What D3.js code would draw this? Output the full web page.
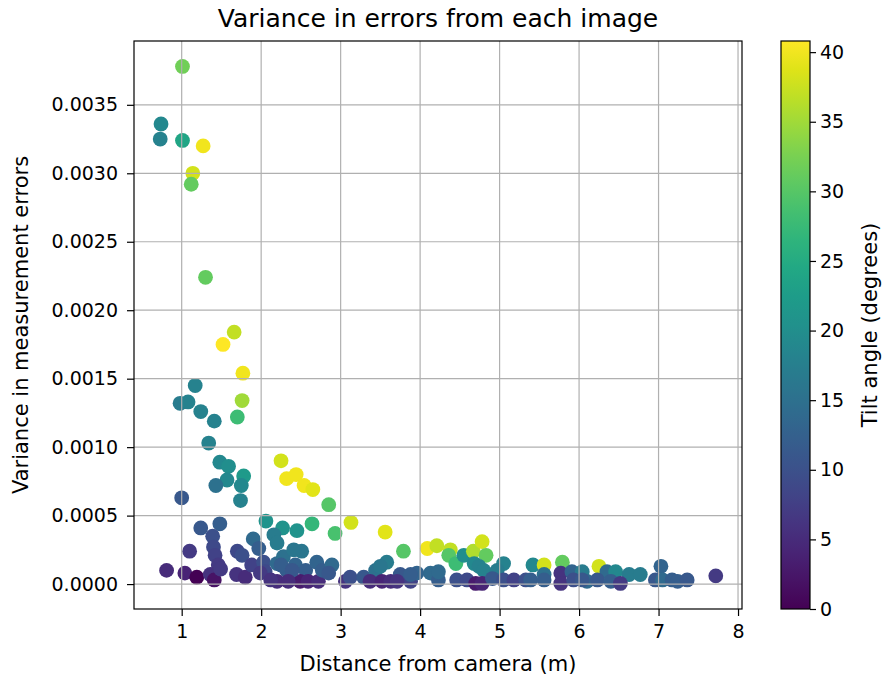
<!DOCTYPE html>
<html>
<head>
<meta charset="utf-8">
<script src="https://cdn.jsdelivr.net/npm/d3@7"></script>
<style>
  body { margin: 0; background: #fff; }
  text { font-family: "DejaVu Sans", sans-serif; fill: #000; }
</style>
</head>
<body>
<svg id="chart" width="883" height="678"></svg>
<script>
// Distance from camera (m) for each image
const distance = [
  1.01, 0.74, 0.73, 1.01, 1.27, 1.14, 1.12, 1.30, 1.66, 1.52, 1.77, 1.17, 1.76, 0.98, 1.08, 1.24,
  1.41, 1.70, 1.34, 1.48, 1.59, 1.57, 1.43, 1.78, 1.75, 1.74, 1.00, 2.25, 2.32, 2.44, 2.54, 2.65,
  2.85, 3.13, 3.56, 2.93, 2.64, 2.45, 2.27, 2.06, 2.16, 2.20, 1.90, 1.97, 1.48, 1.24, 1.39, 1.40,
  1.42, 1.46, 1.10, 0.81, 1.04, 1.19, 1.36, 1.41, 1.70, 1.76, 1.69, 1.80, 1.88, 2.03, 2.05, 1.99,
  2.20, 2.28, 2.32, 2.20, 2.43, 2.51, 2.41, 2.56, 2.49, 2.59, 2.72, 2.70, 2.77, 2.89, 2.85, 3.06,
  3.12, 3.29, 3.44, 3.37, 3.79, 4.09, 4.21, 4.38, 4.36, 4.45, 4.55, 4.67, 4.78, 4.83, 4.68, 4.74,
  4.80, 5.05, 4.97, 5.42, 5.56, 5.56, 3.58, 3.50, 3.52, 3.63, 3.75, 3.88, 3.96, 4.13, 4.23, 4.46,
  4.59, 4.70, 4.78, 4.91, 5.05, 5.18, 5.33, 5.79, 5.77, 5.91, 6.04, 6.25, 6.35, 6.46, 6.63, 6.77,
  7.03, 7.72, 5.39, 5.56, 5.77, 5.93, 6.10, 6.23, 6.40, 6.52, 6.96, 7.05, 7.17, 7.24, 7.36, 1.49,
  2.25, 2.39, 3.88, 4.23, 2.34, 3.71, 6.04, 2.12
];

// Variance in measurement errors for each image
const variance = [
  0.00378, 0.00336, 0.00325, 0.00324, 0.00320, 0.00300, 0.00292, 0.00224, 0.00184, 0.00175, 0.00154, 0.00145, 0.00134, 0.00132, 0.00133, 0.00126,
  0.00119, 0.00122, 0.00103, 0.00089, 0.00086, 0.00076, 0.00072, 0.00079, 0.00072, 0.00061, 0.00063, 0.00090, 0.00077, 0.00080, 0.00072, 0.00069,
  0.00058, 0.00045, 0.00038, 0.00037, 0.00044, 0.00039, 0.00041, 0.00046, 0.00036, 0.00030, 0.00033, 0.00026, 0.00044, 0.00041, 0.00035, 0.00027,
  0.00021, 0.00014, 0.00024, 0.00010, 0.00008, 0.00005, 0.00007, 0.00003, 0.00024, 0.00021, 0.00007, 0.00005, 0.00014, 0.00016, 0.00009, 0.00008,
  0.00015, 0.00020, 0.00010, 0.00002, 0.00014, 0.00024, 0.00025, 0.00010, 0.00002, 0.00002, 0.00002, 0.00016, 0.00010, 0.00014, 0.00008, 0.00002,
  0.00005, 0.00005, 0.00010, 0.00002, 0.00024, 0.00026, 0.00028, 0.00025, 0.00021, 0.00015, 0.00021, 0.00024, 0.00031, 0.00021, 0.00015, 0.00013,
  0.00010, 0.00015, 0.00010, 0.00014, 0.00014, 0.00007, 0.00016, 0.00013, 0.00002, 0.00002, 0.00007, 0.00002, 0.00008, 0.00008, 0.00003, 0.00003,
  0.00003, 0.000005, 0.000005, 0.00004, 0.00003, 0.00003, 0.00003, 0.00016, 0.00008, 0.00009, 0.00009, 0.00013, 0.00009, 0.00009, 0.00007, 0.00007,
  0.00013, 0.00006, 0.00003, 0.00003, 0.000005, 0.00003, 0.00002, 0.00003, 0.00002, 0.000005, 0.00003, 0.00003, 0.00003, 0.00002, 0.00003, 0.00011,
  0.00014, 0.00010, 0.00007, 0.00009, 0.00002, 0.00002, 0.00003, 0.00003
];

// Tilt angle (degrees) for each image
const tilt = [
  32, 19, 18, 24, 40, 38, 31, 31, 37, 40.8, 40, 18, 35, 17, 18, 18,
  18, 28, 18, 19, 20, 19, 15, 22, 19, 18, 11, 38, 40, 40, 40, 39,
  30, 38, 39, 29, 27, 21, 21, 21, 17, 17, 14, 12, 12, 11, 10, 9,
  8, 7, 7, 5, 4, 0, 6, 2, 9, 10, 6, 5, 8, 10, 9, 7,
  14, 15, 12, 5, 13, 16, 16, 12, 3, 4, 5, 13, 12, 14, 11, 6,
  10, 11, 15, 5, 30, 40, 37, 37, 30, 28, 20, 36, 38, 31, 19, 18,
  18, 18, 17, 19, 38, 15, 17, 16, 4, 5, 11, 8, 13, 14, 12, 10,
  9, 3, 4, 11, 10, 8, 10, 31, 6, 13, 17, 38, 14, 19, 17, 17,
  13, 7, 12, 12, 6, 10, 14, 11, 12, 7, 11, 14, 12, 12, 11, 7,
  12, 11, 12, 14, 5, 6, 11, 6
];

const xTicks = [1, 2, 3, 4, 5, 6, 7, 8];
const yTicks = [0, 0.0005, 0.0010, 0.0015, 0.0020, 0.0025, 0.0030, 0.0035];
const cTicks = [0, 5, 10, 15, 20, 25, 30, 35, 40];

const titleText = "Variance in errors from each image";
const xLabel = "Distance from camera (m)";
const yLabel = "Variance in measurement errors";
const cLabel = "Tilt angle (degrees)";

// Layout
const plot = { left: 134, top: 41, right: 742, bottom: 609 };
const cbar = { left: 781, width: 29 };
const tickFont = 19;
const labelFont = 21;
const titleFont = 25;
const radius = 7.4;

const svg = d3.select("#chart");

const x = d3.scaleLinear().domain([0.40, 8.05]).range([plot.left, plot.right]);
const y = d3.scaleLinear().domain([-0.000182, 0.003966]).range([plot.bottom, plot.top]);
const c = d3.scaleLinear().domain([0, d3.max(tilt)]).range([plot.bottom, plot.top]);
const colour = v => d3.interpolateViridis(v / d3.max(tilt));

const points = distance.map((d, i) => ({ d, v: variance[i], t: tilt[i] }));

// Scatter points
svg.append("g")
  .selectAll("circle")
  .data(points)
  .join("circle")
  .attr("cx", p => x(p.d))
  .attr("cy", p => y(p.v))
  .attr("r", radius)
  .attr("fill", p => colour(p.t));

// Grid lines (drawn over the points)
const grid = svg.append("g").attr("stroke", "#b0b0b0").attr("stroke-width", 1.2);
grid.selectAll("line.vx")
  .data(xTicks)
  .join("line")
  .attr("x1", d => x(d)).attr("x2", d => x(d))
  .attr("y1", plot.top).attr("y2", plot.bottom);
grid.selectAll("line.hy")
  .data(yTicks)
  .join("line")
  .attr("x1", plot.left).attr("x2", plot.right)
  .attr("y1", d => y(d)).attr("y2", d => y(d));

// Axes
const xAxis = svg.append("g")
  .attr("transform", `translate(0,${plot.bottom})`)
  .call(d3.axisBottom(x).tickValues(xTicks).tickSize(7).tickPadding(9).tickFormat(d3.format("d")));
const yAxis = svg.append("g")
  .attr("transform", `translate(${plot.left},0)`)
  .call(d3.axisLeft(y).tickValues(yTicks).tickSize(7).tickPadding(9).tickFormat(d3.format(".4f")));

[xAxis, yAxis].forEach(g => {
  g.select(".domain").remove();
  g.selectAll(".tick line").attr("stroke", "#000").attr("stroke-width", 1.2);
  g.selectAll(".tick text").attr("font-size", tickFont).attr("font-family", "DejaVu Sans").attr("fill", "#222");
});

// Plot frame
svg.append("rect")
  .attr("x", plot.left).attr("y", plot.top)
  .attr("width", plot.right - plot.left).attr("height", plot.bottom - plot.top)
  .attr("fill", "none").attr("stroke", "#000").attr("stroke-width", 1.2);

// Colour bar
const defs = svg.append("defs");
const grad = defs.append("linearGradient")
  .attr("id", "viridis-bar")
  .attr("x1", 0).attr("y1", 1).attr("x2", 0).attr("y2", 0);
d3.range(0, 1.0001, 0.05).forEach(s => {
  grad.append("stop").attr("offset", s).attr("stop-color", d3.interpolateViridis(s));
});
svg.append("rect")
  .attr("x", cbar.left).attr("y", plot.top)
  .attr("width", cbar.width).attr("height", plot.bottom - plot.top)
  .attr("fill", "url(#viridis-bar)")
  .attr("stroke", "#000").attr("stroke-width", 1.2);

const cAxis = svg.append("g")
  .attr("transform", `translate(${cbar.left + cbar.width},0)`)
  .call(d3.axisRight(c).tickValues(cTicks).tickSize(6).tickPadding(4).tickFormat(d3.format("d")));
cAxis.select(".domain").remove();
cAxis.selectAll(".tick line").attr("stroke", "#000").attr("stroke-width", 1.2);
cAxis.selectAll(".tick text").attr("font-size", tickFont).attr("font-family", "DejaVu Sans").attr("fill", "#222");

// Titles
svg.append("text")
  .attr("x", (plot.left + plot.right) / 2).attr("y", 27)
  .attr("text-anchor", "middle").attr("font-size", titleFont)
  .text(titleText);

svg.append("text")
  .attr("x", (plot.left + plot.right) / 2).attr("y", 671)
  .attr("text-anchor", "middle").attr("font-size", labelFont).attr("fill", "#222")
  .text(xLabel);

svg.append("text")
  .attr("transform", `translate(28,${(plot.top + plot.bottom) / 2}) rotate(-90)`)
  .attr("text-anchor", "middle").attr("font-size", labelFont).attr("fill", "#222")
  .text(yLabel);

svg.append("text")
  .attr("transform", `translate(877,${(plot.top + plot.bottom) / 2}) rotate(-90)`)
  .attr("text-anchor", "middle").attr("font-size", labelFont).attr("fill", "#222")
  .text(cLabel);
</script>
</body>
</html>
